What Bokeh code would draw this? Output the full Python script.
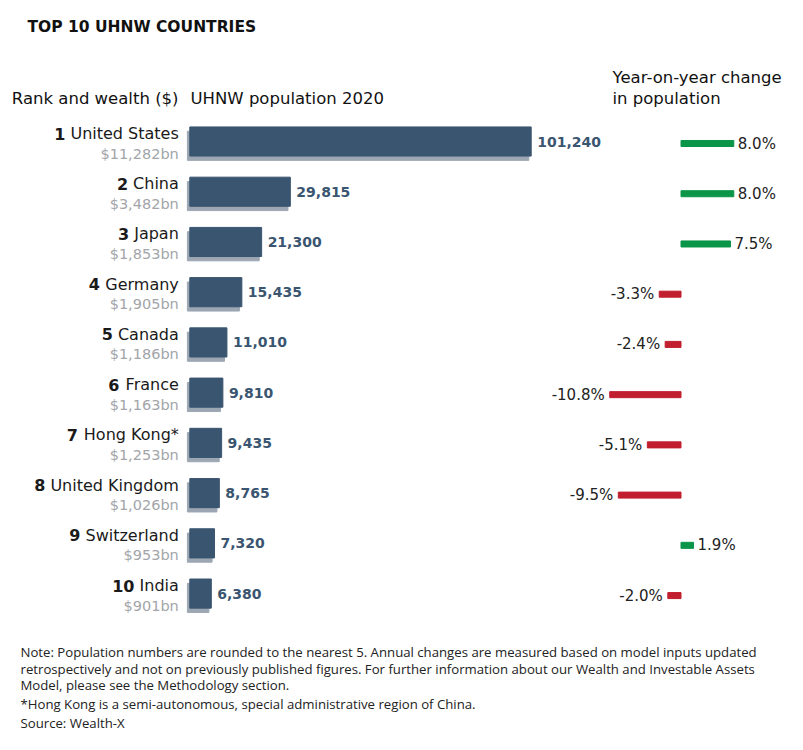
from bokeh.plotting import figure
from bokeh.models import ColumnDataSource, Range1d, Label
from bokeh.embed import file_html
from bokeh.resources import INLINE
from bokeh.core.properties import value

# ---------------- data ----------------
ranks = ["1", "2", "3", "4", "5", "6", "7", "8", "9", "10"]
countries = ["United States", "China", "Japan", "Germany", "Canada", "France",
             "Hong Kong*", "United Kingdom", "Switzerland", "India"]
wealth = ["$11,282bn", "$3,482bn", "$1,853bn", "$1,905bn", "$1,186bn", "$1,163bn",
          "$1,253bn", "$1,026bn", "$953bn", "$901bn"]
population = [101240, 29815, 21300, 15435, 11010, 9810, 9435, 8765, 7320, 6380]
yoy_change = [8.0, 8.0, 7.5, -3.3, -2.4, -10.8, -5.1, -9.5, 1.9, -2.0]

title_text = "TOP 10 UHNW COUNTRIES"
header_rank = "Rank and wealth ($)"
header_pop = "UHNW population 2020"
header_yoy = ["Year-on-year change", "in population"]
notes = [
    "Note: Population numbers are rounded to the nearest 5. Annual changes are measured based on model inputs updated",
    "retrospectively and not on previously published figures. For further information about our Wealth and Investable Assets",
    "Model, please see the Methodology section.",
    "*Hong Kong is a semi-autonomous, special administrative region of China.",
    "Source: Wealth-X",
]

# ---------------- styling / layout ----------------
W, H = 795, 742
OX, OY = 0, 0  # figure origin in the screenshot
FONT = "DejaVu Sans"
NOTE_FONT = "Open Sans"
BAR = "#3a5570"
SHADOW = "#9ca7b3"
GREEN = "#0b9548"
RED = "#c11f2f"
GRAY = "#a2a5a9"
DARK = "#1a1a1a"

# population axis: zero at x=189.3, 101240 at x=530.7 (page px)
u = 101240 / (530.7 - 189.3)
pop_start = -(189.3 - OX) * u
pop_end = pop_start + W * u
# yoy axis: zero at x=680.5, 6.6 px per %
k = 6.6
yoy_start = -(680.5 - OX) / k
yoy_end = yoy_start + W / k
# rows: row 0 at y=141, step 50.23 px
step = 50.23
y_top = -(141.0 - OY) / step
y_bot = y_top + H / step

p = figure(width=W, height=H, output_backend="svg", toolbar_location=None,
           x_range=Range1d(pop_start, pop_end), y_range=Range1d(y_bot, y_top),
           x_axis_type=None, y_axis_type=None, min_border=0,
           outline_line_color=None, background_fill_color="white",
           border_fill_color="white")
p.grid.visible = False

sx = 2.4 * u          # shadow shift left
sy = 4.3 / step       # shadow shift down
yy = 2.0 / step       # yoy bars slightly lower
p.extra_x_ranges = {"shadow": Range1d(pop_start + sx, pop_end + sx),
                    "yoy": Range1d(yoy_start, yoy_end),
                    "px": Range1d(OX, OX + W)}
p.extra_y_ranges = {"shadow": Range1d(y_bot - sy, y_top - sy),
                    "yoy": Range1d(y_bot - yy, y_top - yy),
                    "px": Range1d(OY + H, OY)}

# DejaVu Sans advance widths (per 2048 em) to place bold rank before name
ADV = {" ": 651, "*": 1024, "A": 1401, "C": 1430, "F": 1178, "G": 1587, "H": 1540,
       "I": 604, "J": 604, "K": 1343, "S": 1300, "U": 1499, "W": 2025,
       "a": 1255, "b": 1300, "c": 1126, "d": 1300, "e": 1260, "f": 721, "g": 1300,
       "h": 1298, "i": 569, "j": 569, "k": 1186, "l": 569, "m": 1995, "n": 1298,
       "o": 1253, "p": 1300, "r": 842, "s": 1067, "t": 803, "u": 1298, "w": 1675,
       "y": 1212, "z": 1075}
NAME_SIZE = 16
def text_w(s, size):
    return sum(ADV.get(c, 1200) for c in s) * size / 2048.0

rows = list(range(len(countries)))
LBL_X = -11
src = ColumnDataSource(dict(
    y=rows, pop=population, yoy=yoy_change, country=countries, rank=ranks,
    wealth=wealth, pop_label=[f"{v:,}" for v in population],
    rank_off=[LBL_X - text_w(" " + c, NAME_SIZE) for c in countries],
    yoy_color=[GREEN if v >= 0 else RED for v in yoy_change],
))

# population bars with shadow
p.hbar(y="y", left=0, right="pop", height=0.58, source=src, color=SHADOW,
       x_range_name="shadow", y_range_name="shadow")
p.hbar(y="y", left=0, right="pop", height=0.58, source=src, color=BAR)
p.text(x="pop", y="y", text="pop_label", source=src, x_offset=6,
       text_baseline="middle", text_align="left", text_color=BAR,
       text_font=value(FONT), text_font_style="bold", text_font_size="14px")

# row labels
p.text(x=0, y="y", text="country", source=src, x_offset=LBL_X, y_offset=-8,
       text_align="right", text_baseline="middle", text_color=DARK,
       text_font=value(FONT), text_font_size=f"{NAME_SIZE}px")
p.text(x=0, y="y", text="rank", source=src, x_offset="rank_off", y_offset=-8,
       text_align="right", text_baseline="middle", text_color=DARK,
       text_font=value(FONT), text_font_style="bold", text_font_size=f"{NAME_SIZE}px")
p.text(x=0, y="y", text="wealth", source=src, x_offset=LBL_X, y_offset=12,
       text_align="right", text_baseline="middle", text_color=GRAY,
       text_font=value(FONT), text_font_size="14.5px")

# year-on-year bars
p.hbar(y="y", left=0, right="yoy", height=0.12, source=src, color="yoy_color",
       x_range_name="yoy", y_range_name="yoy")
pos = [i for i, v in enumerate(yoy_change) if v >= 0]
neg = [i for i, v in enumerate(yoy_change) if v < 0]
for idx, off, align in ((pos, 4, "left"), (neg, -5, "right")):
    s = ColumnDataSource(dict(y=[rows[i] for i in idx],
                              x=[yoy_change[i] for i in idx],
                              t=[f"{yoy_change[i]:.1f}%" for i in idx]))
    p.text(x="x", y="y", text="t", source=s, x_offset=off,
           x_range_name="yoy", y_range_name="yoy",
           text_align=align, text_baseline="middle", text_color="#222222",
           text_font=value(FONT), text_font_size="15px")

# titles / headers / notes (page-pixel annotation range)
def lab(x, y, t, size, align="left", bold=False, font=FONT, color=DARK):
    p.add_layout(Label(x=x, y=y, text=t, x_range_name="px", y_range_name="px",
                       text_align=align, text_baseline="middle",
                       text_font=font, text_font_size=size,
                       text_font_style="bold" if bold else "normal",
                       text_color=color))

lab(27, 26, title_text, "15.5px", bold=True, color="#111111")
lab(178, 98, header_rank, "16.5px", align="right", color="#111111")
lab(190, 98, header_pop, "16.5px", color="#111111")
lab(612, 77, header_yoy[0], "16.5px", color="#111111")
lab(612, 98, header_yoy[1], "16.5px", color="#111111")
for t, yv in zip(notes, [651, 668, 684, 703, 722]):
    lab(20, yv, t, "13.2px", font=NOTE_FONT, color="#222222")

open("out.html", "w").write(file_html(p, INLINE))
